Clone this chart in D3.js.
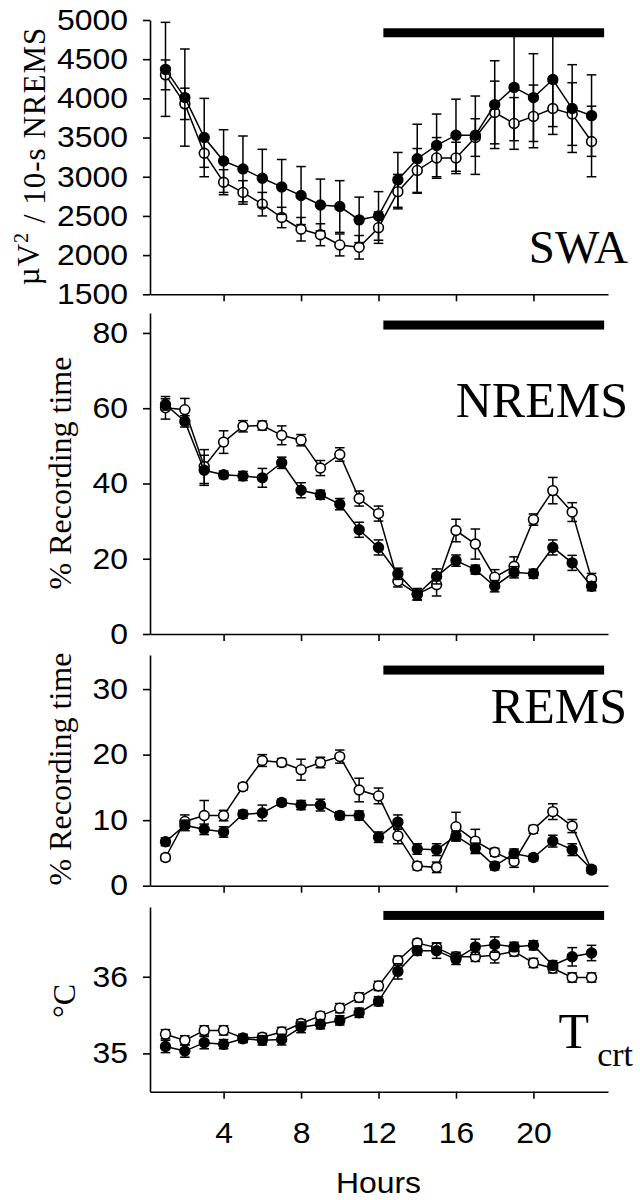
<!DOCTYPE html>
<html>
<head>
<meta charset="utf-8">
<script src="https://cdn.jsdelivr.net/npm/d3@7/dist/d3.min.js"></script>
<style>
  html, body { margin: 0; padding: 0; background: #fff; }
  svg { display: block; }
</style>
</head>
<body>
<svg id="chart" width="640" height="1200"></svg>
<script>
// ---------------- DATA ----------------
const hours = [1,2,3,4,5,6,7,8,9,10,11,12,13,14,15,16,17,18,19,20,21,22,23];
const xTicks = [4, 8, 12, 16, 20];
const darkPeriod = [12.25, 23.65];

// SWA (µV² / 10-s NREMS)
const swaFilled    = [4370,4010,3500,3200,3100,2980,2870,2760,2640,2620,2450,2500,2960,3230,3400,3530,3530,3920,4140,4010,4240,3870,3780];
const swaFilledErr = [600,620,500,400,420,370,350,370,330,330,290,310,350,440,400,460,500,560,680,560,600,560,520];
const swaOpen      = [4300,3930,3300,2930,2800,2650,2480,2330,2260,2130,2100,2350,2810,3080,3240,3240,3500,3820,3680,3770,3870,3800,3450];
const swaOpenErr   = [190,200,180,160,150,150,130,150,140,140,150,200,220,280,260,200,240,400,330,400,330,400,450];
const swaTicks = [1500,2000,2500,3000,3500,4000,4500,5000];

// NREMS (% recording time)
const nremsFilled    = [61,56.5,43.5,42.3,42,41.5,45.5,38.2,37,34.5,27.7,23,16,10.5,15.3,19.5,17.1,12.7,16.4,16,23,18.9,12.7];
const nremsFilledErr = [1.5,1.5,4,1,1.2,2.5,1.5,2,1.2,1.5,2,2,1.5,1.5,2,1.5,1.2,1.5,1.5,1.2,2,2,1.2];
const nremsOpen      = [60.1,59.6,44.5,51,55.2,55.4,52.8,51.5,44.1,47.7,36,32,14,10.6,13.1,27.5,23.9,15.1,18,30.4,38.1,32.4,14.6];
const nremsOpenErr   = [3,3,4.5,3,1.5,1.2,2.5,1.5,2,1.8,2,2,1.5,1.5,3,3,4,2,2.5,1.5,3.5,2.5,1.5];
const nremsTicks = [0,20,40,60,80];

// REMS (% recording time)
const remsFilled    = [6.7,9.2,8.6,8.2,10.9,11.1,12.7,12.3,12.3,10.7,10.7,7.4,9.7,5.6,5.5,7.6,5.7,3.0,4.9,4.3,6.8,5.5,2.5];
const remsFilledErr = [0.6,0.8,0.8,0.8,0.6,1.2,0.5,0.7,0.9,0.6,0.7,0.8,1.1,0.8,0.9,0.7,0.8,0.6,0.7,0.5,0.9,0.9,0.5];
const remsOpen      = [4.3,9.8,10.7,10.7,15.1,19.1,18.8,17.7,18.8,19.7,14.6,13.7,7.6,3.0,2.8,9.0,6.8,5.1,3.7,8.6,11.3,9.1,2.4];
const remsOpenErr   = [0.5,1.0,2.3,0.8,0.5,0.9,0.6,1.6,0.8,1.0,1.8,1.2,1.2,0.6,0.8,2.2,1.8,0.6,0.9,0.6,1.2,1.0,0.5];
const remsTicks = [0,10,20,30];

// Tcrt (°C)
const tFilled    = [35.09,35.03,35.14,35.12,35.19,35.17,35.18,35.34,35.38,35.43,35.53,35.68,36.07,36.34,36.34,36.23,36.39,36.42,36.39,36.41,36.15,36.26,36.31];
const tFilledErr = [0.08,0.08,0.08,0.06,0.05,0.06,0.07,0.07,0.06,0.06,0.06,0.06,0.1,0.06,0.1,0.07,0.1,0.1,0.06,0.06,0.06,0.12,0.1];
const tOpen      = [35.25,35.17,35.30,35.30,35.20,35.21,35.28,35.39,35.49,35.59,35.73,35.88,36.21,36.44,36.38,36.26,36.26,36.28,36.33,36.18,36.11,35.99,35.99];
const tOpenErr   = [0.06,0.06,0.06,0.06,0.05,0.05,0.06,0.05,0.05,0.06,0.06,0.06,0.06,0.05,0.06,0.06,0.06,0.1,0.06,0.06,0.06,0.06,0.06];
const tTicks = [35, 36];

// ---------------- LAYOUT ----------------
const svg = d3.select("#chart");
svg.append("rect").attr("width", 640).attr("height", 1200).attr("fill", "#fff");

const x = d3.scaleLinear().domain([0.2, 23.85]).range([150, 608]);
const SANS = "'Liberation Sans', Arial, Helvetica, sans-serif";
const SERIF = "'Liberation Serif', 'Times New Roman', Times, serif";
const STRETCH = 1.1;

const panels = [
  { filled: swaFilled, fErr: swaFilledErr, open: swaOpen, oErr: swaOpenErr, ticks: swaTicks,
    domain: [1500, 5000], range: [294.3, 20], bar: 4837,
    label: "SWA", labelSize: 47, labelX: 628, labelY: 263,
    title: "swa", titleX: 39, titleY: 156 },
  { filled: nremsFilled, fErr: nremsFilledErr, open: nremsOpen, oErr: nremsOpenErr, ticks: nremsTicks,
    domain: [0, 85.3], range: [634, 313], bar: 82.1,
    label: "NREMS", labelSize: 50, labelX: 628, labelY: 417,
    title: "% Recording time", titleX: 71, titleY: 473 },
  { filled: remsFilled, fErr: remsFilledErr, open: remsOpen, oErr: remsOpenErr, ticks: remsTicks,
    domain: [0, 35.2], range: [885.7, 655], bar: 32.9,
    label: "REMS", labelSize: 50, labelX: 627, labelY: 723,
    title: "% Recording time", titleX: 71, titleY: 769 },
  { filled: tFilled, fErr: tFilledErr, open: tOpen, oErr: tOpenErr, ticks: tTicks,
    domain: [34.5, 36.91], range: [1091.7, 907], bar: 36.80,
    label: "T", labelSize: 50, labelX: 589, labelY: 1048,
    title: "°C", titleX: 75, titleY: 1001, bottom: true }
];

panels.forEach(p => {
  const y = d3.scaleLinear().domain(p.domain).range(p.range);
  const g = svg.append("g");

  // y axis
  const ya = g.append("g").attr("transform", `translate(${x.range()[0]},0)`)
    .call(d3.axisLeft(y).tickValues(p.ticks).tickSize(7).tickSizeOuter(0).tickPadding(15)
      .tickFormat(d3.format("d")));
  ya.attr("font-family", SANS).attr("font-size", 29);
  ya.selectAll("path, line").attr("stroke", "#000").attr("stroke-width", 1.6);
  ya.selectAll("text").attr("fill", "#000")
    .attr("x", -22 / STRETCH).attr("transform", `scale(${STRETCH},1)`);

  // x axis
  const xa = g.append("g").attr("transform", `translate(0,${p.range[0]})`)
    .call(d3.axisBottom(x).tickValues(xTicks).tickSize(7).tickSizeOuter(0).tickPadding(24)
      .tickFormat(p.bottom ? d3.format("d") : () => ""));
  xa.attr("font-family", SANS).attr("font-size", 29);
  xa.selectAll("path, line").attr("stroke", "#000").attr("stroke-width", 1.6);
  xa.selectAll("text").attr("fill", "#000").attr("transform", `scale(${STRETCH},1)`);

  // dark period bar
  g.append("rect")
    .attr("x", x(darkPeriod[0])).attr("width", x(darkPeriod[1]) - x(darkPeriod[0]))
    .attr("y", y(p.bar) - 4.5).attr("height", 9).attr("fill", "#000");

  const line = d3.line().x((d, i) => x(hours[i])).y(d => y(d));

  const drawSeries = (vals, errs, filled) => {
    const s = g.append("g");
    // error bars
    const eb = s.selectAll("g.eb").data(vals).join("g");
    eb.append("line")
      .attr("x1", (d, i) => x(hours[i])).attr("x2", (d, i) => x(hours[i]))
      .attr("y1", (d, i) => y(d + errs[i])).attr("y2", (d, i) => y(d - errs[i]))
      .attr("stroke", "#000").attr("stroke-width", 1.5);
    [1, -1].forEach(sg => {
      eb.append("line")
        .attr("x1", (d, i) => x(hours[i]) - 4.8).attr("x2", (d, i) => x(hours[i]) + 4.8)
        .attr("y1", (d, i) => y(d + sg * errs[i])).attr("y2", (d, i) => y(d + sg * errs[i]))
        .attr("stroke", "#000").attr("stroke-width", 1.5);
    });
    // connecting line
    s.append("path").datum(vals).attr("d", line)
      .attr("fill", "none").attr("stroke", "#000").attr("stroke-width", 1.5);
    // markers
    s.selectAll("circle").data(vals).join("circle")
      .attr("cx", (d, i) => x(hours[i])).attr("cy", d => y(d)).attr("r", 4.9)
      .attr("fill", filled ? "#000" : "#fff").attr("stroke", "#000").attr("stroke-width", 1.6);
  };
  drawSeries(p.open, p.oErr, false);
  drawSeries(p.filled, p.fErr, true);

  // panel label
  g.append("text").attr("font-family", SERIF).attr("font-size", p.labelSize)
    .attr("fill", "#000").attr("x", p.labelX).attr("y", p.labelY)
    .attr("text-anchor", "end").text(p.label);
  if (p.label === "T") {
    g.append("text").attr("font-family", SERIF).attr("font-size", 34).attr("fill", "#000")
      .attr("x", 633).attr("y", 1065.5).attr("text-anchor", "end").text("crt");
  }

  // y title
  const t = g.append("text").attr("font-family", SERIF).attr("font-size", p.title === "swa" ? 31 : 32)
    .attr("fill", "#000").attr("text-anchor", "middle")
    .attr("transform", `translate(${p.titleX},${p.titleY}) rotate(-90)`);
  if (p.title === "swa") {
    t.attr("letter-spacing", 1);
    t.append("tspan").text("µV");
    t.append("tspan").attr("dy", "-0.55em").attr("font-size", "0.65em").text("2");
    t.append("tspan").attr("dy", "0.55em").text(" / 10-s NREMS");
  } else {
    t.text(p.title);
  }
});

// x axis title
svg.append("text").attr("font-family", SANS).attr("font-size", 29).attr("fill", "#000")
  .attr("text-anchor", "middle").attr("transform", `translate(${x(12)},1193) scale(${STRETCH},1)`)
  .text("Hours");
</script>
</body>
</html>
